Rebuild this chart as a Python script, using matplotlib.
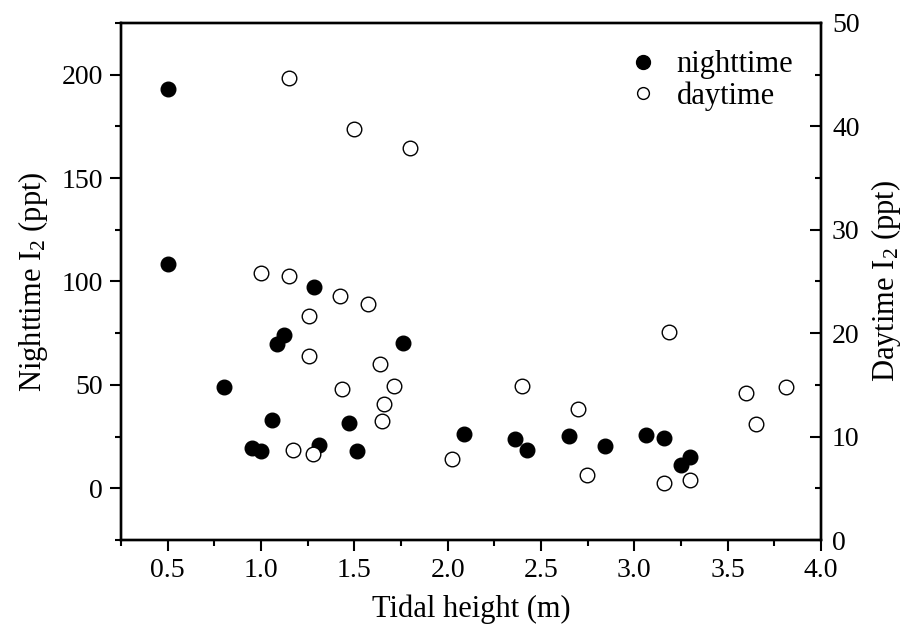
import matplotlib
matplotlib.use('Agg')
import matplotlib.pyplot as plt
from matplotlib.ticker import MultipleLocator, FormatStrFormatter
from matplotlib.lines import Line2D

plt.rcParams['font.family'] = ['Liberation Serif', 'DejaVu Serif']
plt.rcParams['mathtext.fontset'] = 'custom'
plt.rcParams['mathtext.rm'] = 'Liberation Serif'
plt.rcParams['mathtext.it'] = 'Liberation Serif:italic'

# nighttime (left axis)
night_x = [0.50, 0.50, 1.286, 1.125, 1.084, 1.759, 0.80, 1.061, 1.473, 0.95, 1.00,
           1.312, 1.513, 2.087, 2.361, 2.423, 2.652, 2.843, 3.061, 3.16, 3.248, 3.298]
night_y = [193.3, 108.6, 97.2, 73.9, 69.9, 70.3, 48.9, 32.8, 31.6, 19.4, 17.9,
           20.7, 17.8, 26.1, 23.9, 18.6, 25.3, 20.3, 25.6, 24.2, 11.5, 15.0]

# daytime (right axis)
day_x = [1.148, 1.498, 1.798, 0.998, 1.148, 1.423, 1.575, 1.257, 1.259, 1.637, 1.436,
         1.711, 1.657, 1.648, 1.173, 1.279, 2.023, 2.397, 2.698, 2.748, 3.186, 3.16,
         3.298, 3.597, 3.65, 3.812]
day_y = [44.7, 39.7, 37.9, 25.8, 25.5, 23.6, 22.8, 21.7, 17.8, 17.0, 14.6,
         14.9, 13.2, 11.5, 8.7, 8.3, 7.8, 14.9, 12.7, 6.3, 20.1, 5.5,
         5.8, 14.2, 11.2, 14.8]

fig = plt.figure(figsize=(9.06, 6.35), dpi=100)
ax = fig.add_axes([0.1336, 0.1496, 0.7725, 0.8142])
ax2 = ax.twinx()

ax.plot(night_x, night_y, 'o', color='black', ms=10.5, zorder=3)
ax2.plot(day_x, day_y, 'o', mfc='white', mec='black', mew=1.0, ms=10.5)

ax.set_xlim(0.25, 4.0)
ax.set_ylim(-25, 225)
ax2.set_ylim(0, 50)

ax.xaxis.set_minor_locator(MultipleLocator(0.25))
ax.yaxis.set_minor_locator(MultipleLocator(25))
ax2.yaxis.set_major_locator(MultipleLocator(10))
ax2.yaxis.set_minor_locator(MultipleLocator(5))
ax.set_xticks([0.5, 1.0, 1.5, 2.0, 2.5, 3.0, 3.5, 4.0])
ax.set_yticks([0, 50, 100, 150, 200])
ax.xaxis.set_major_formatter(FormatStrFormatter('%.1f'))

ax.tick_params(which='major', direction='out', length=8, width=1.5, labelsize=20, pad=5)
ax.tick_params(which='minor', direction='out', length=4.5, width=1.5)
ax2.tick_params(which='major', direction='in', length=8, width=1.5, labelsize=20, pad=8)
ax2.tick_params(which='minor', direction='in', length=4.5, width=1.5)
for a in (ax, ax2):
    for s in a.spines.values():
        s.set_linewidth(1.7)
ax.tick_params(axis='both', top=False)

ax.set_xlabel('Tidal height (m)', fontsize=22, labelpad=8)
ax.set_ylabel('Nighttime I$_2$ (ppt)', fontsize=22, labelpad=8)
ax2.set_ylabel('Daytime I$_2$ (ppt)', fontsize=22, labelpad=7)

handles = [Line2D([], [], ls='none', marker='o', color='black', ms=10),
           Line2D([], [], ls='none', marker='o', mfc='white', mec='black', mew=1.0, ms=8.5)]
ax2.legend(handles, ['nighttime', 'daytime'], loc='upper right', frameon=False,
           fontsize=22, handletextpad=0.5, labelspacing=0.05, borderaxespad=0.6,
           handlelength=1.2, borderpad=0.3)

fig.savefig('out.png', dpi=100)
